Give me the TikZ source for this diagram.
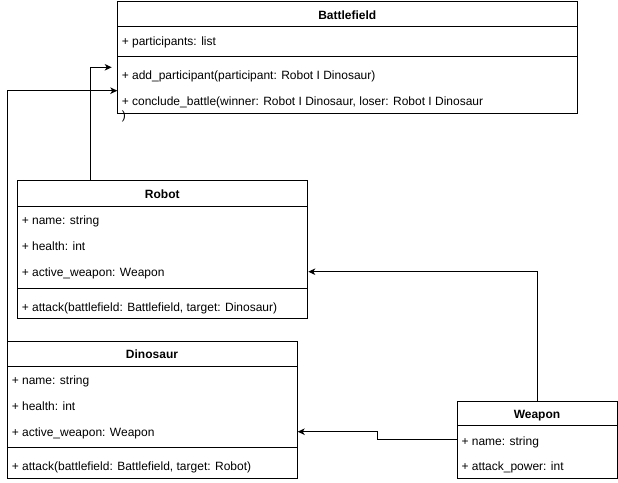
\documentclass[tikz,border=0pt]{standalone}
\usepackage{fontspec}
\setmainfont{Liberation Sans}
\usetikzlibrary{arrows.meta,calc}
\begin{document}
\begin{tikzpicture}[x=1pt,y=-1pt,line width=1pt,
  box/.style={draw,anchor=north west,inner sep=0pt},
  txt/.style={anchor=base west,inner sep=0pt,font=\fontsize{12}{14}\selectfont},
  ttl/.style={anchor=base,inner sep=0pt,font=\fontsize{12}{14}\selectfont\bfseries},
  arr/.style={-{Stealth[length=7pt,width=6.5pt,inset=2pt]}}]
\useasboundingbox (0,0) rectangle (618,482);
% Battlefield
\node[box,minimum width=460pt,minimum height=112pt] (bf) at (117.3,0.7) {};
\draw (117.3,26.5) -- (577.3,26.5);
\draw (117.3,56.3) -- (577.3,56.3);
\node[ttl] (bft) at (347.3,19) {Battlefield};
\node[txt] (bf1) at (121.3,45) {+ participants: list};
\node[txt] (bf2) at (121.3,79) {+ add\_participant(participant: Robot I Dinosaur)};
\node[txt] (bf3) at (121.3,105) {+ conclude\_battle(winner: Robot I Dinosaur, loser: Robot I Dinosaur};
\node[txt] (bf4) at (121.3,119.5) {)};
% Robot
\node[box,minimum width=290pt,minimum height=137.4pt] (rb) at (17.3,180.3) {};
\draw (17.3,206.7) -- (307.3,206.7);
\draw (17.3,288.3) -- (307.3,288.3);
\node[ttl] (rbt) at (162.3,198.3) {Robot};
\node[txt] (rb1) at (21.3,224.3) {+ name: string};
\node[txt] (rb2) at (21.3,250.3) {+ health: int};
\node[txt] (rb3) at (21.3,276.3) {+ active\_weapon: Weapon};
\node[txt] (rb4) at (21.3,311) {+ attack(battlefield: Battlefield, target: Dinosaur)};
% Dinosaur
\node[box,minimum width=289.4pt,minimum height=137.6pt] (dn) at (7.3,340.7) {};
\draw (7.3,366.7) -- (296.7,366.7);
\draw (7.3,447.7) -- (296.7,447.7);
\node[ttl] (dnt) at (152,358.3) {Dinosaur};
\node[txt] (dn1) at (11.3,384.3) {+ name: string};
\node[txt] (dn2) at (11.3,410.3) {+ health: int};
\node[txt] (dn3) at (11.3,436) {+ active\_weapon: Weapon};
\node[txt] (dn4) at (11.3,470) {+ attack(battlefield: Battlefield, target: Robot)};
% Weapon
\node[box,minimum width=160pt,minimum height=77.6pt] (wp) at (457,400.7) {};
\draw (457,425.7) -- (617,425.7);
\node[ttl] (wpt) at (537,418.3) {Weapon};
\node[txt] (wp1) at (461,445) {+ name: string};
\node[txt] (wp2) at (461,470.3) {+ attack\_power: int};
% connectors
\coordinate (c1) at (111.7,67.3);
\coordinate (c2) at (117.3,90.7);
\draw[arr] ($(rb.north west)+(72.7,0)$) |- (c1);
\draw[arr] (dn.north west) |- (c2);
\draw[arr] ($(wp.north west)+(80.3,0)$) |- (rb.east |- 0,271.7);
\draw[arr] (wp.west |- 0,439.3) -- (377.3,439.3) |- (dn.east |- 0,431.7);
\end{tikzpicture}
\end{document}
